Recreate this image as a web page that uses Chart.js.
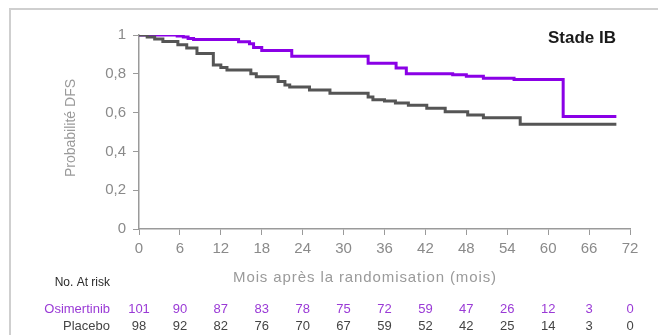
<!DOCTYPE html>
<html>
<head>
<meta charset="utf-8">
<script src="https://cdn.jsdelivr.net/npm/chart.js@4.4.0/dist/chart.umd.min.js"></script>
<style>
  html, body { margin: 0; padding: 0; background: #fff; }
  canvas { display: block; }
</style>
</head>
<body>
<canvas id="km" width="658" height="335"></canvas>
<script>
// mois (ticks de l'axe x et tableau des patients a risque)
const months = [0, 6, 12, 18, 24, 30, 36, 42, 48, 54, 60, 66, 72];
const riskOsimertinib = [101, 90, 87, 83, 78, 75, 72, 59, 47, 26, 12, 3, 0];
const riskPlacebo = [98, 92, 82, 76, 70, 67, 59, 52, 42, 25, 14, 3, 0];
const yTicks = [0, 0.2, 0.4, 0.6, 0.8, 1];

// courbes de Kaplan-Meier
const osiTimes = [0, 5.6, 6.5, 7.2, 8, 14.6, 16.2, 16.8, 18, 22.4, 33.6, 37.7, 39.2, 46, 48, 50.5, 55, 62.2, 70];
const osiSurv  = [1, 0.995, 0.99, 0.982, 0.977, 0.965, 0.955, 0.935, 0.92, 0.89, 0.855, 0.83, 0.80, 0.795, 0.787, 0.777, 0.771, 0.58, 0.58];

const placeboTimes = [0, 1.2, 2.3, 3.5, 5.7, 7.0, 8.5, 10.9, 12.0, 12.9, 16.4, 17.2, 20.4, 21.4, 22.1, 25, 28, 33.6, 34.3, 36, 37.6, 39.5, 42.2, 44.9, 48.2, 50.5, 55.9, 70];
const placeboSurv  = [1, 0.99, 0.98, 0.967, 0.95, 0.933, 0.905, 0.845, 0.832, 0.82, 0.80, 0.785, 0.76, 0.742, 0.732, 0.716, 0.70, 0.68, 0.666, 0.66, 0.65, 0.638, 0.622, 0.604, 0.588, 0.574, 0.54, 0.54];

const purple = '#8a00e6';
const purpleText = '#9a3ad6';
const greyLine = '#555555';
const tickColor = '#8a8a8a';

function toPoints(xs, ys) {
    return xs.map((x, i) => ({ x: x, y: ys[i] }));
}

const decor = {
    id: 'decor',
    beforeDraw(chart) {
        const ctx = chart.ctx;
        ctx.save();
        ctx.strokeStyle = '#cfcfcf';
        ctx.lineWidth = 2;
        ctx.beginPath();
        ctx.moveTo(10, 340);
        ctx.lineTo(10, 9);
        ctx.lineTo(660, 9);
        ctx.stroke();
        ctx.restore();
    },
    afterDraw(chart) {
        const ctx = chart.ctx;
        const xs = chart.scales.x;
        const area = chart.chartArea;
        ctx.save();

        // titre de l'axe y
        ctx.fillStyle = '#9a9a9a';
        ctx.font = '14px "Liberation Sans", Arial, sans-serif';
        ctx.textAlign = 'center';
        ctx.textBaseline = 'middle';
        ctx.translate(71, (area.top + area.bottom) / 2 - 4);
        ctx.rotate(-Math.PI / 2);
        ctx.fillText('Probabilité DFS', 0, 0);
        ctx.setTransform(1, 0, 0, 1, 0, 0);

        // titre de l'axe x
        ctx.font = '15px "Liberation Sans", Arial, sans-serif';
        ctx.letterSpacing = '0.9px';
        ctx.fillText('Mois après la randomisation (mois)', 365, 278);
        ctx.letterSpacing = '0px';

        // Stade IB
        ctx.fillStyle = '#1a1a1a';
        ctx.font = 'bold 17px "Liberation Sans", Arial, sans-serif';
        ctx.fillText('Stade IB', 582, 38);

        // tableau des patients a risque
        ctx.font = '12px "Liberation Sans", Arial, sans-serif';
        ctx.fillStyle = '#2a2a2a';
        ctx.textAlign = 'right';
        ctx.fillText('No. At risk', 110, 283);
        ctx.font = '13px "Liberation Sans", Arial, sans-serif';
        ctx.fillStyle = purpleText;
        ctx.fillText('Osimertinib', 110, 309);
        ctx.fillStyle = '#444444';
        ctx.fillText('Placebo', 110, 326);

        ctx.textAlign = 'center';
        months.forEach((m, i) => {
            const px = xs.getPixelForValue(m);
            ctx.fillStyle = purpleText;
            ctx.fillText(String(riskOsimertinib[i]), px, 309);
            ctx.fillStyle = '#444444';
            ctx.fillText(String(riskPlacebo[i]), px, 326);
        });
        ctx.restore();
    }
};

new Chart(document.getElementById('km'), {
    type: 'line',
    data: {
        datasets: [{
            label: 'Placebo',
            data: toPoints(placeboTimes, placeboSurv),
            borderColor: greyLine,
            borderWidth: 3,
            stepped: 'before',
            pointRadius: 0,
            fill: false
        }, {
            label: 'Osimertinib',
            data: toPoints(osiTimes, osiSurv),
            borderColor: purple,
            borderWidth: 3,
            stepped: 'before',
            pointRadius: 0,
            fill: false
        }]
    },
    options: {
        responsive: false,
        animation: false,
        devicePixelRatio: 1,
        layout: { padding: { left: 0, top: 35, right: 28, bottom: 0 } },
        plugins: {
            legend: { display: false },
            tooltip: { enabled: false }
        },
        scales: {
            x: {
                type: 'linear',
                min: 0,
                max: 72,
                afterBuildTicks: (s) => { s.ticks = months.map(v => ({ value: v })); },
                afterFit: (s) => { s.height = 106; },
                grid: { drawOnChartArea: false, drawTicks: true, tickLength: 6, color: '#9a9a9a' },
                border: { color: '#9a9a9a', width: 1.5 },
                ticks: {
                    color: tickColor,
                    font: { family: '"Liberation Sans", Arial, sans-serif', size: 15 },
                    padding: 5,
                    maxRotation: 0,
                    autoSkip: false
                }
            },
            y: {
                min: 0,
                max: 1,
                afterBuildTicks: (s) => { s.ticks = yTicks.map(v => ({ value: v })); },
                afterFit: (s) => { s.width = 139; },
                grid: { drawOnChartArea: false, drawTicks: true, tickLength: 6, color: '#9a9a9a' },
                border: { color: '#9a9a9a', width: 1.5 },
                ticks: {
                    color: tickColor,
                    font: { family: '"Liberation Sans", Arial, sans-serif', size: 15 },
                    padding: 7,
                    callback: (v) => (v === 0 || v === 1) ? String(v) : v.toFixed(1).replace('.', ',')
                }
            }
        }
    },
    plugins: [decor]
});
</script>
</body>
</html>
